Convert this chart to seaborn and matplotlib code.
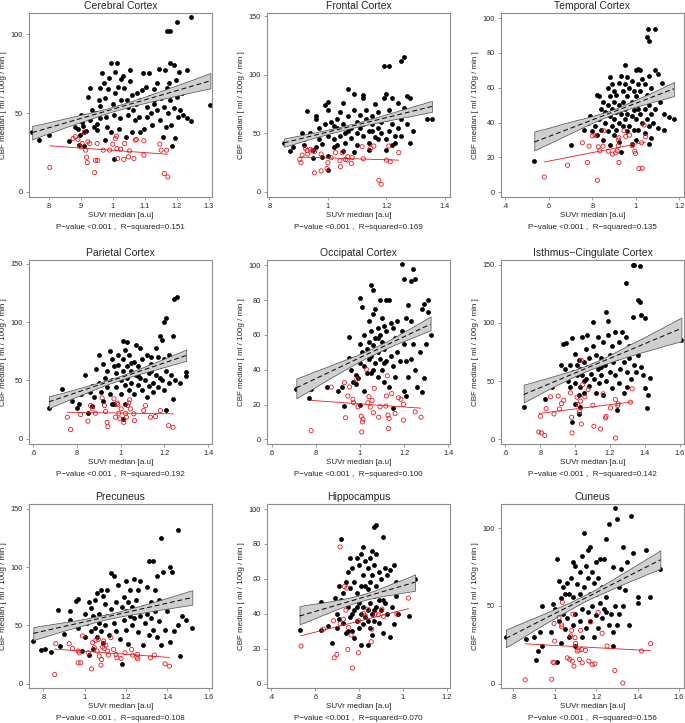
import matplotlib
matplotlib.use("Agg")
import matplotlib.pyplot as plt
import matplotlib.ticker as mticker
import pandas as pd
import seaborn as sns

# Data: (SUVr median, CBF median)
# black = filled dots, red = open circles
cerebral_black = [
    (0.748, 38), (0.769, 33), (0.80, 36), (0.863, 32), (0.883, 41), (0.891, 40), (0.90, 48.7), (0.897, 36),
    (0.904, 44.5), (0.909, 38), (0.915, 38.8), (0.907, 41.7), (0.922, 60.4), (0.928, 65.7), (0.935, 51.9),
    (0.941, 41.3), (0.949, 39.2), (0.956, 58.3), (0.961, 54.4), (0.961, 65.7), (0.967, 75.2), (0.972, 68.9),
    (0.974, 59.3), (0.98, 47.7), (0.982, 41.3), (0.984, 65), (0.987, 72), (0.995, 81.6), (1.0, 56),
    (1.003, 48.7), (0.993, 38), (1.008, 62.5), (1.014, 81.6), (1.016, 66.7), (1.019, 54), (1.022, 46.6),
    (1.024, 58.3), (1.026, 71.4), (1.032, 73.5), (1.036, 65.7), (1.043, 58.3), (1.047, 54), (1.049, 48.7),
    (1.053, 77.3), (1.055, 70), (1.06, 61.4), (1.064, 52), (1.068, 45.5), (1.071, 56), (1.076, 62.5),
    (1.081, 47.7), (1.086, 58.3), (1.092, 64.6), (1.095, 75.6), (1.099, 40.2), (1.105, 66.3), (1.107, 54),
    (1.112, 75.6), (1.116, 60.4), (1.12, 49.8), (1.123, 42.4), (1.128, 65), (1.13, 56), (1.137, 68.9),
    (1.139, 51.9), (1.144, 77.8), (1.147, 45.5), (1.151, 59.3), (1.155, 62.9), (1.158, 35), (1.16, 54),
    (1.162, 77.3), (1.165, 41.3), (1.17, 65.7), (1.172, 49.8), (1.176, 69.3), (1.178, 82), (1.18, 58.3),
    (1.182, 42.4), (1.186, 29), (1.19, 80.5), (1.191, 53), (1.193, 33.9), (1.197, 71), (1.2, 60.4),
    (1.203, 47.7), (1.207, 76.3), (1.211, 51.9), (1.217, 62.5), (1.22, 48.7), (1.228, 66.7), (1.232, 77.3),
    (1.232, 46.6), (1.245, 45.1), (1.003, 20.6), (1.008, 76.3), (0.894, 29.7), (0.911, 29.4), (0.974, 32.8),
    (1.107, 47.7), (1.06, 38), (1.019, 40.2), (1.04, 35), (1.086, 38), (0.961, 46.6), (0.946, 49.8),
    (0.93, 45.5), (0.951, 43), (1.128, 58.3), (1.245, 110.8), (1.201, 107.4), (1.168, 102.3), (1.178, 101.7),
    (1.305, 55),
]
cerebral_red = [
    (0.803, 15.5), (0.876, 33.9), (0.883, 35), (0.891, 33.3), (0.899, 28.6), (0.904, 30.7), (0.911, 38),
    (0.915, 26.5), (0.918, 22), (0.92, 18.6), (0.922, 31.8), (0.928, 30.7), (0.943, 12.3), (0.946, 20),
    (0.953, 20), (0.951, 30.7), (0.97, 26.5), (0.99, 26.5), (1.0, 30.3), (1.008, 33.9), (1.011, 35.4),
    (1.013, 27.5), (1.015, 21.2), (1.024, 27.1), (1.034, 20.6), (1.037, 30.7), (1.049, 22.2), (1.052, 26),
    (1.07, 32.8), (1.074, 33.3), (1.066, 21.2), (1.097, 32.4), (1.097, 23.3), (1.147, 30.3), (1.151, 26.5),
    (1.168, 26.5), (1.161, 11.7), (1.172, 9.5),
]

frontal_black = [
    (0.85, 42), (0.87, 35), (0.88, 38), (0.90, 44), (0.91, 50), (0.92, 40), (0.93, 47), (0.93, 69), (0.94, 50),
    (0.95, 36), (0.95, 29), (0.96, 62), (0.96, 65), (0.97, 45), (0.97, 55), (0.98, 41), (0.99, 58), (0.99, 74),
    (1.0, 70), (1.0, 77), (1.0, 48), (1.0, 19), (1.01, 60), (1.01, 52), (1.02, 38), (1.02, 45), (1.03, 62),
    (1.03, 55), (1.04, 48), (1.04, 68), (1.05, 76), (1.05, 58), (1.06, 50), (1.06, 42), (1.07, 88), (1.07, 65),
    (1.08, 55), (1.08, 46), (1.09, 84), (1.09, 70), (1.10, 60), (1.10, 50), (1.10, 40), (1.11, 66), (1.11, 55),
    (1.12, 83), (1.12, 80), (1.12, 48), (1.13, 62), (1.13, 70), (1.14, 52), (1.14, 42), (1.15, 58), (1.15, 65),
    (1.16, 47), (1.16, 75), (1.17, 55), (1.17, 68), (1.18, 50), (1.18, 60), (1.19, 80), (1.19, 108), (1.20, 84),
    (1.20, 62), (1.20, 45), (1.21, 108), (1.21, 70), (1.21, 52), (1.22, 80), (1.22, 58), (1.22, 40), (1.23, 66),
    (1.23, 48), (1.24, 76), (1.24, 55), (1.25, 112), (1.25, 62), (1.26, 115), (1.26, 72), (1.27, 82), (1.27, 58),
    (1.28, 80), (1.28, 42), (1.29, 52), (1.34, 62), (1.355, 62), (0.98, 30), (1.05, 35), (1.09, 34), (1.14, 36),
    (1.20, 36), (1.23, 42), (1.0, 31), (0.96, 38), (0.92, 45), (1.02, 56), (1.07, 52), (1.12, 58), (1.17, 45),
    (1.25, 48), (1.03, 40), (1.15, 52),
]
frontal_red = [
    (0.904, 27.8), (0.908, 25), (0.912, 31.5), (0.931, 32.4), (0.94, 36.4), (0.946, 35.3), (0.954, 34.4),
    (0.954, 16.3), (0.977, 32.4), (0.977, 18), (0.997, 20), (1.0, 25), (1.011, 29.3), (1.026, 33.6),
    (1.041, 26.7), (1.043, 21.5), (1.049, 33.6), (1.06, 27.8), (1.066, 27.2), (1.068, 30.1), (1.08, 24.4),
    (1.083, 29.3), (1.117, 38.7), (1.121, 28.4), (1.146, 37.3), (1.157, 39.3), (1.174, 10), (1.182, 6.6),
    (1.2, 27.2), (1.208, 39.3), (1.213, 25.8), (1.242, 33.6), (0.923, 37.3), (0.929, 35.3),
]

temporal_black = [
    (0.533, 18), (0.70, 27), (0.76, 36), (0.78, 40), (0.79, 44), (0.80, 35), (0.81, 38), (0.82, 56), (0.82, 33),
    (0.83, 55), (0.83, 42), (0.84, 48), (0.84, 36), (0.85, 52), (0.85, 30), (0.86, 46), (0.86, 40), (0.87, 50),
    (0.87, 60), (0.87, 35), (0.88, 66), (0.88, 55), (0.88, 44), (0.88, 27), (0.89, 62), (0.89, 48), (0.89, 38),
    (0.90, 58), (0.90, 52), (0.90, 42), (0.90, 33), (0.91, 56), (0.91, 46), (0.91, 36), (0.92, 63), (0.92, 50),
    (0.92, 40), (0.93, 67), (0.93, 45), (0.93, 23), (0.94, 58), (0.94, 52), (0.94, 38), (0.95, 73), (0.95, 62),
    (0.95, 48), (0.95, 42), (0.96, 66), (0.96, 55), (0.96, 45), (0.96, 35), (0.97, 60), (0.97, 50), (0.97, 38),
    (0.98, 64), (0.98, 52), (0.98, 44), (0.99, 58), (0.99, 47), (0.99, 36), (1.0, 70), (1.0, 55), (1.0, 42),
    (1.01, 71), (1.01, 62), (1.01, 48), (1.01, 36), (1.02, 70), (1.02, 58), (1.02, 45), (1.03, 65), (1.03, 52),
    (1.03, 40), (1.04, 62), (1.04, 48), (1.04, 34), (1.05, 89), (1.05, 56), (1.05, 42), (1.055, 94), (1.06, 87),
    (1.06, 67), (1.06, 50), (1.06, 38), (1.07, 60), (1.07, 45), (1.07, 31), (1.08, 54), (1.08, 40), (1.09, 94),
    (1.09, 70), (1.09, 48), (1.10, 68), (1.10, 37), (1.11, 52), (1.12, 63), (1.13, 45), (1.13, 36), (1.15, 43),
    (1.175, 42), (0.98, 28), (0.92, 29), (1.0, 30), (1.06, 28),
]
temporal_red = [
    (0.579, 8.8), (0.686, 15.5), (0.754, 28.4), (0.777, 17.1), (0.785, 26.5), (0.80, 32.4), (0.812, 32.8),
    (0.823, 6.9), (0.827, 26.1), (0.834, 23.8), (0.853, 35.3), (0.873, 23.6), (0.892, 21.9), (0.907, 22.6),
    (0.914, 23.8), (0.919, 26.7), (0.922, 31.3), (0.919, 30), (0.922, 17.1), (0.945, 35.3), (0.953, 32.1),
    (0.971, 32.8), (0.983, 26.7), (0.995, 23.6), (0.998, 22.3), (1.014, 13.6), (1.029, 13.8), (1.026, 28.4),
    (1.037, 38.6), (1.044, 31.9), (0.849, 26.5),
]

parietal_black = [
    (0.673, 26), (0.735, 43), (0.78, 32), (0.80, 26), (0.81, 30), (0.82, 38), (0.84, 55), (0.85, 22), (0.86, 40),
    (0.87, 28), (0.87, 45), (0.88, 36), (0.89, 60), (0.90, 72), (0.90, 48), (0.91, 40), (0.92, 64), (0.92, 32),
    (0.93, 52), (0.94, 58), (0.94, 44), (0.95, 75), (0.95, 38), (0.96, 68), (0.96, 50), (0.97, 62), (0.97, 30),
    (0.98, 56), (0.98, 44), (0.99, 72), (0.99, 63), (1.0, 50), (1.0, 38), (1.01, 84), (1.01, 68), (1.01, 58),
    (1.01, 17), (1.02, 76), (1.02, 46), (1.03, 83), (1.03, 62), (1.03, 52), (1.04, 72), (1.04, 42), (1.05, 58),
    (1.05, 48), (1.06, 66), (1.06, 38), (1.07, 80), (1.07, 55), (1.08, 62), (1.08, 46), (1.09, 78), (1.09, 52),
    (1.10, 68), (1.10, 42), (1.11, 60), (1.11, 50), (1.12, 72), (1.12, 36), (1.13, 56), (1.13, 45), (1.14, 70),
    (1.14, 64), (1.15, 48), (1.15, 40), (1.16, 78), (1.16, 55), (1.17, 70), (1.17, 44), (1.18, 88), (1.18, 62),
    (1.19, 85), (1.19, 50), (1.20, 100), (1.20, 68), (1.20, 42), (1.21, 104), (1.21, 58), (1.21, 25), (1.22, 72),
    (1.22, 48), (1.23, 66), (1.23, 55), (1.24, 88), (1.24, 34), (1.245, 120), (1.25, 50), (1.26, 122), (1.26, 70),
    (1.27, 48), (1.30, 54), (1.30, 57), (1.02, 30), (0.96, 30), (1.05, 65), (1.08, 54), (1.14, 58), (1.18, 52),
]
parietal_red = [
    (0.757, 18.4), (0.772, 7.8), (0.818, 20.7), (0.851, 15), (0.863, 28.4), (0.871, 25.6), (0.886, 21.8),
    (0.916, 35), (0.927, 28.4), (0.932, 23.3), (0.939, 14), (0.942, 10.3), (0.97, 34.2), (0.977, 18.4),
    (0.985, 30.5), (0.988, 29.3), (0.992, 21.8), (0.997, 17), (1.003, 25.6), (1.015, 14), (1.023, 21.8),
    (1.027, 18.4), (1.033, 28.4), (1.038, 30.7), (1.042, 33.3), (1.045, 25.6), (1.061, 21.3), (1.064, 15.5),
    (1.106, 24.1), (1.114, 28.4), (1.137, 18.4), (1.16, 19), (1.182, 24.1), (1.22, 11.2), (1.24, 9.8),
]

occipital_black = [
    (0.712, 29), (0.77, 24), (0.78, 29), (0.85, 30), (0.90, 28), (0.92, 30), (0.93, 19), (0.95, 59), (0.95, 47),
    (0.96, 40), (0.97, 33), (0.98, 37), (0.99, 35), (1.0, 81), (1.0, 55), (1.0, 44), (1.0, 20), (1.01, 76),
    (1.01, 50), (1.02, 60), (1.02, 42), (1.03, 52), (1.03, 38), (1.04, 68), (1.04, 56), (1.04, 46), (1.05, 89),
    (1.05, 62), (1.05, 48), (1.06, 86), (1.06, 72), (1.06, 54), (1.06, 40), (1.07, 75), (1.07, 58), (1.07, 44),
    (1.08, 64), (1.08, 50), (1.08, 36), (1.09, 80), (1.09, 60), (1.09, 46), (1.10, 70), (1.10, 56), (1.10, 40),
    (1.11, 65), (1.11, 52), (1.11, 33), (1.12, 80), (1.12, 62), (1.12, 45), (1.13, 80), (1.13, 55), (1.13, 30),
    (1.14, 67), (1.14, 48), (1.15, 64), (1.15, 42), (1.15, 18), (1.16, 58), (1.16, 36), (1.17, 68), (1.17, 50),
    (1.18, 45), (1.19, 101), (1.19, 62), (1.20, 92), (1.20, 55), (1.20, 28), (1.21, 70), (1.21, 45), (1.21, 25),
    (1.22, 77), (1.22, 60), (1.22, 36), (1.23, 91), (1.23, 68), (1.23, 46), (1.24, 98), (1.24, 55), (1.25, 92),
    (1.25, 40), (1.26, 62), (1.26, 30), (1.27, 50), (1.28, 27), (1.28, 75), (1.29, 78), (1.29, 35), (1.30, 55),
    (1.31, 73), (1.31, 80), (1.32, 60), (0.98, 32), (1.02, 28), (1.05, 38), (1.08, 58), (1.11, 44), (1.14, 56),
]
occipital_red = [
    (0.779, 5), (0.87, 30), (0.93, 32.6), (0.935, 12.4), (0.945, 24.9), (0.953, 30.1), (0.968, 23), (0.971, 21),
    (0.986, 34.6), (0.991, 18.7), (1.006, 13.3), (1.008, 4.2), (1.011, 10), (1.014, 11.6), (1.029, 40.3),
    (1.036, 21), (1.041, 24.5), (1.047, 18.5), (1.055, 22.4), (1.061, 15.3), (1.065, 29.3), (1.085, 12.7),
    (1.091, 18.7), (1.117, 19.1), (1.12, 24.9), (1.124, 36.5), (1.127, 13.9), (1.129, 6.2), (1.132, 12),
    (1.144, 26.3), (1.159, 14.9), (1.174, 23.9), (1.186, 23), (1.197, 20.1), (1.197, 11), (1.25, 15.8),
    (1.277, 12.7),
]

isthmus_black = [
    (0.705, 28), (0.83, 35), (0.87, 45), (0.90, 52), (0.92, 64), (0.93, 82), (0.94, 60), (0.95, 83), (0.96, 50),
    (0.97, 64), (0.97, 45), (0.98, 15), (0.98, 87), (0.99, 58), (1.0, 73), (1.0, 48), (1.0, 30), (1.01, 64),
    (1.01, 55), (1.02, 38), (1.02, 22), (1.02, 68), (1.03, 60), (1.03, 45), (1.03, 28), (1.04, 88), (1.04, 55),
    (1.05, 66), (1.05, 40), (1.06, 78), (1.06, 52), (1.07, 90), (1.07, 62), (1.08, 46), (1.08, 70), (1.09, 56),
    (1.10, 101), (1.10, 80), (1.10, 64), (1.11, 52), (1.12, 72), (1.12, 40), (1.13, 88), (1.13, 60), (1.14, 48),
    (1.15, 70), (1.15, 55), (1.16, 84), (1.16, 38), (1.17, 64), (1.18, 109), (1.18, 50), (1.19, 90), (1.19, 102),
    (1.20, 72), (1.20, 58), (1.21, 80), (1.21, 44), (1.22, 66), (1.23, 92), (1.23, 55), (1.24, 25), (1.24, 70),
    (1.25, 84), (1.25, 48), (1.26, 60), (1.27, 92), (1.27, 75), (1.28, 66), (1.28, 40), (1.29, 134), (1.29, 88),
    (1.30, 58), (1.30, 45), (1.31, 80), (1.31, 70), (1.32, 52), (1.33, 150), (1.33, 105), (1.34, 150), (1.34, 64),
    (1.35, 80), (1.35, 58), (1.36, 120), (1.36, 72), (1.37, 118), (1.37, 149), (1.38, 107), (1.38, 62), (1.39, 55),
    (1.40, 104), (1.40, 44), (1.41, 86), (1.41, 27), (1.42, 38), (1.43, 53), (1.61, 85), (1.05, 50), (1.15, 62),
]
isthmus_red = [
    (0.792, 6.3), (0.807, 5.5), (0.826, 3.4), (0.801, 19.8), (0.834, 26.4), (0.859, 36.5), (0.879, 21.8),
    (0.903, 37.1), (0.91, 26.1), (0.922, 30.7), (0.935, 33.6), (0.974, 39.9), (0.98, 19), (0.983, 5.5),
    (1.011, 36.2), (1.017, 29.9), (1.025, 23.6), (1.031, 32.8), (1.036, 13.2), (1.036, 67.8), (1.044, 47.1),
    (1.056, 36.5), (1.075, 42.8), (1.102, 29.3), (1.108, 11.2), (1.146, 8.9), (1.161, 39.1), (1.175, 18.4),
    (1.178, 19.8), (1.203, 27), (1.232, 1.1), (1.232, 34.2), (1.245, 29), (1.247, 30.5), (1.318, 31.9),
    (1.328, 43.4),
]

precuneus_black = [
    (0.753, 37), (0.79, 29), (0.81, 30), (0.84, 27), (0.87, 63), (0.88, 32), (0.90, 43), (0.93, 62), (0.93, 55),
    (0.96, 71), (0.97, 73), (0.97, 48), (0.99, 28), (1.0, 60), (1.0, 40), (1.01, 52), (1.02, 70), (1.02, 25),
    (1.03, 65), (1.03, 45), (1.04, 58), (1.04, 30), (1.05, 72), (1.05, 48), (1.06, 78), (1.06, 40), (1.07, 60),
    (1.07, 52), (1.08, 80), (1.08, 45), (1.09, 75), (1.09, 35), (1.10, 68), (1.10, 50), (1.11, 80), (1.11, 58),
    (1.12, 42), (1.13, 95), (1.13, 64), (1.14, 92), (1.14, 52), (1.15, 70), (1.15, 45), (1.16, 85), (1.16, 60),
    (1.17, 38), (1.18, 66), (1.18, 17), (1.19, 74), (1.19, 55), (1.20, 88), (1.20, 62), (1.20, 46), (1.21, 70),
    (1.21, 34), (1.22, 58), (1.22, 80), (1.23, 66), (1.23, 50), (1.24, 90), (1.24, 56), (1.25, 72), (1.25, 62),
    (1.26, 80), (1.26, 44), (1.27, 58), (1.27, 88), (1.28, 66), (1.28, 33), (1.29, 52), (1.30, 83), (1.30, 60),
    (1.31, 105), (1.31, 42), (1.32, 70), (1.32, 56), (1.33, 105), (1.33, 46), (1.34, 80), (1.34, 62), (1.35, 92),
    (1.35, 40), (1.36, 72), (1.36, 54), (1.37, 125), (1.37, 33), (1.38, 70), (1.38, 96), (1.39, 46), (1.40, 62),
    (1.41, 100), (1.41, 36), (1.42, 96), (1.43, 45), (1.44, 70), (1.45, 132), (1.45, 50), (1.46, 24), (1.47, 58),
    (1.49, 55), (1.52, 48),
]
precuneus_red = [
    (0.856, 7.8), (0.861, 34.3), (0.926, 34.3), (0.942, 30.3), (0.969, 28), (0.974, 26.5), (0.969, 17.9),
    (0.982, 17.9), (0.99, 40.9), (1.018, 26.5), (1.034, 12.7), (1.039, 35.2), (1.047, 30.8), (1.055, 37.2),
    (1.06, 28), (1.066, 38), (1.071, 23.6), (1.079, 15.9), (1.082, 20.7), (1.087, 31.4), (1.092, 36.6),
    (1.095, 30.3), (1.103, 33.1), (1.111, 28), (1.115, 24.5), (1.127, 39.5), (1.14, 29.4), (1.152, 25),
    (1.156, 22.2), (1.176, 21.6), (1.195, 26.5), (1.227, 29.4), (1.232, 24.5), (1.253, 22.8), (1.256, 25),
    (1.256, 21.3), (1.318, 22.2), (1.337, 24.5), (1.389, 17), (1.41, 15),
]

hippocampus_black = [
    (0.53, 31), (0.63, 47), (0.63, 31), (0.66, 33), (0.68, 23), (0.69, 49), (0.70, 40), (0.70, 32), (0.71, 56),
    (0.71, 37), (0.72, 83), (0.72, 48), (0.73, 52), (0.73, 35), (0.74, 58), (0.74, 29), (0.75, 64), (0.75, 44),
    (0.76, 72), (0.76, 55), (0.76, 38), (0.77, 66), (0.77, 48), (0.77, 30), (0.78, 58), (0.78, 42), (0.78, 26),
    (0.79, 72), (0.79, 52), (0.79, 36), (0.80, 68), (0.80, 46), (0.80, 32), (0.81, 74), (0.81, 56), (0.81, 40),
    (0.81, 22), (0.82, 78), (0.82, 62), (0.82, 44), (0.82, 34), (0.83, 70), (0.83, 50), (0.83, 38), (0.84, 66),
    (0.84, 54), (0.84, 42), (0.84, 22), (0.85, 72), (0.85, 58), (0.85, 46), (0.85, 32), (0.86, 76), (0.86, 62),
    (0.86, 40), (0.86, 28), (0.87, 90), (0.87, 68), (0.87, 50), (0.87, 36), (0.88, 91), (0.88, 74), (0.88, 56),
    (0.88, 44), (0.89, 64), (0.89, 48), (0.89, 35), (0.90, 60), (0.90, 42), (0.91, 84), (0.91, 52), (0.91, 29),
    (0.92, 66), (0.92, 46), (0.93, 62), (0.93, 40), (0.94, 65), (0.94, 27), (0.95, 55), (0.95, 44), (0.96, 68),
    (0.96, 34), (0.97, 58), (0.98, 40), (1.03, 39), (1.056, 60), (0.75, 30), (0.79, 44), (0.83, 56), (0.87, 42),
    (0.91, 48), (0.97, 50), (0.77, 40), (0.84, 36),
]
hippocampus_red = [
    (0.537, 21.5), (0.639, 31.2), (0.685, 36), (0.688, 14.8), (0.70, 16.7), (0.715, 34.4), (0.715, 78.3),
    (0.73, 36.9), (0.735, 55.6), (0.745, 54.8), (0.741, 42.1), (0.75, 19.6), (0.753, 32.1), (0.765, 27.9),
    (0.771, 9), (0.798, 17.7), (0.80, 36), (0.821, 40.2), (0.829, 38.8), (0.841, 42.7), (0.856, 24),
    (0.859, 31.2), (0.874, 39.8), (0.889, 39.4), (0.905, 42.7), (0.912, 38.5), (0.973, 39.8), (1.026, 49),
]

cuneus_black = [
    (0.765, 30), (0.86, 29), (0.90, 30), (0.91, 15), (0.92, 21), (0.93, 33), (0.94, 50), (0.94, 24), (0.98, 33),
    (0.99, 51), (1.0, 48), (1.01, 80), (1.01, 14), (1.02, 66), (1.02, 40), (1.03, 55), (1.03, 26), (1.04, 62),
    (1.04, 45), (1.05, 58), (1.05, 35), (1.06, 65), (1.06, 42), (1.07, 58), (1.07, 30), (1.08, 68), (1.08, 50),
    (1.09, 78), (1.09, 56), (1.09, 38), (1.10, 76), (1.10, 45), (1.10, 24), (1.11, 64), (1.11, 52), (1.12, 72),
    (1.12, 58), (1.12, 40), (1.13, 82), (1.13, 48), (1.13, 30), (1.14, 97), (1.14, 62), (1.15, 76), (1.15, 55),
    (1.15, 36), (1.16, 86), (1.16, 68), (1.16, 46), (1.17, 88), (1.17, 58), (1.17, 40), (1.18, 72), (1.18, 50),
    (1.19, 65), (1.19, 30), (1.20, 78), (1.20, 58), (1.20, 44), (1.21, 68), (1.21, 36), (1.22, 80), (1.22, 52),
    (1.23, 62), (1.23, 42), (1.24, 80), (1.24, 48), (1.25, 93), (1.25, 56), (1.26, 103), (1.26, 38), (1.27, 62),
    (1.27, 45), (1.28, 75), (1.28, 33), (1.29, 113), (1.29, 50), (1.30, 106), (1.30, 38), (1.31, 62), (1.31, 45),
    (1.32, 74), (1.33, 88), (1.33, 50), (1.34, 60), (1.35, 78), (1.36, 38), (1.37, 108), (1.38, 84), (1.40, 56),
    (1.40, 52), (1.44, 86), (1.46, 56), (1.51, 74), (1.28, 24), (1.25, 46),
]
cuneus_red = [
    (0.858, 2.4), (0.986, 2.8), (0.992, 13.8), (0.997, 13.4), (1.0, 27.4), (0.997, 38.7), (1.034, 36.5),
    (1.037, 52.3), (1.021, 42.5), (1.061, 16.6), (1.073, 15.6), (1.077, 30.7), (1.082, 34.3), (1.085, 14.5),
    (1.088, 44.7), (1.093, 11.2), (1.098, 29.6), (1.101, 25.9), (1.109, 21), (1.117, 21.6), (1.12, 15.6),
    (1.125, 34.3), (1.13, 22), (1.133, 13.4), (1.149, 21.4), (1.165, 14.5), (1.173, 39.7), (1.181, 12.3),
    (1.194, 12.7), (1.21, 45.8), (1.229, 32.4), (1.253, 24.2), (1.29, 8.4), (1.329, 0.4), (1.419, 21),
    (1.463, 25.7), (1.034, 37.8),
]

regions = ["Cerebral Cortex", "Frontal Cortex", "Temporal Cortex",
           "Parietal Cortex", "Occipatal Cortex", "Isthmus\u2212Cingulate Cortex",
           "Precuneus", "Hippocampus", "Cuneus"]
black_sets = [cerebral_black, frontal_black, temporal_black, parietal_black, occipital_black,
              isthmus_black, precuneus_black, hippocampus_black, cuneus_black]
red_sets = [cerebral_red, frontal_red, temporal_red, parietal_red, occipital_red,
            isthmus_red, precuneus_red, hippocampus_red, cuneus_red]
r_squared = ["0.151", "0.169", "0.135", "0.192", "0.100", "0.142", "0.108", "0.070", "0.156"]

x_ticks = [[0.8, 0.9, 1.0, 1.1, 1.2, 1.3], [0.8, 1.0, 1.2, 1.4], [0.4, 0.6, 0.8, 1.0, 1.2],
           [0.6, 0.8, 1.0, 1.2, 1.4], [0.6, 0.8, 1.0, 1.2, 1.4], [0.6, 0.8, 1.0, 1.2, 1.4, 1.6],
           [0.8, 1.0, 1.2, 1.4, 1.6], [0.4, 0.6, 0.8, 1.0, 1.2], [0.8, 1.0, 1.2, 1.4, 1.6]]
y_ticks = [[0, 50, 100], [0, 50, 100, 150], [0, 20, 40, 60, 80, 100],
           [0, 50, 100, 150], [0, 20, 40, 60, 80, 100], [0, 50, 100, 150],
           [0, 50, 100, 150], [0, 20, 40, 60, 80, 100], [0, 50, 100]]

# axis ranges (layout)
x_lims = [(0.738, 1.31), (0.792, 1.417), (0.38, 1.221), (0.582, 1.418), (0.579, 1.408),
          (0.575, 1.625), (0.732, 1.615), (0.382, 1.215), (0.741, 1.624)]
y_lims = [(-3.2, 113.4), (-4.3, 152.9), (-2.7, 102.9), (-4.6, 153.4), (-2.7, 103.1),
          (-4, 154), (-3.7, 154), (-2.5, 102.9), (-2.8, 115.6)]

W, H = 685, 723
col_left = [29, 267, 501]
row_top = [13, 260, 504]
ax_w, ax_h = 183, 184

sns.set_theme(style="white")
plt.rcParams["font.family"] = ["Liberation Sans", "DejaVu Sans"]

fig = plt.figure(figsize=(W / 100, H / 100), dpi=100)
frame_col = "#8c8c8c"


def stata_fmt(v, pos):
    s = f"{v:g}"
    if s.startswith("0.") and v != 0:
        s = s[1:]
    return s


for i, region in enumerate(regions):
    r, c = divmod(i, 3)
    left = col_left[c] / W
    bottom = 1 - (row_top[r] + ax_h) / H
    ax = fig.add_axes([left, bottom, ax_w / W, ax_h / H])

    blk = pd.DataFrame(black_sets[i], columns=["suvr", "cbf"])
    red = pd.DataFrame(red_sets[i], columns=["suvr", "cbf"])

    sns.scatterplot(data=blk, x="suvr", y="cbf", ax=ax, color="black", s=12,
                    linewidth=0, zorder=2, legend=False)
    # fewer points were read than the original has, so a narrower interval
    # gives a band closer to the published one
    sns.regplot(data=blk, x="suvr", y="cbf", ax=ax, scatter=False, ci=75, n_boot=500, seed=1,
                truncate=True, color="black",
                line_kws={"linestyle": (0, (5, 3)), "linewidth": 0.7, "zorder": 4})
    band = ax.collections[-1]
    band.set_facecolor("#cfcfcf")
    band.set_alpha(1)
    band.set_edgecolor("#4d4d4d")
    band.set_linewidth(0.5)
    band.set_zorder(3)

    sns.scatterplot(data=red, x="suvr", y="cbf", ax=ax, facecolor="none", edgecolor="#e8191e",
                    s=9, linewidth=0.6, zorder=5, legend=False)
    sns.regplot(data=red, x="suvr", y="cbf", ax=ax, scatter=False, ci=None, truncate=True,
                color="#e8191e", line_kws={"linewidth": 0.6, "zorder": 5})

    ax.set_xlim(*x_lims[i])
    ax.set_ylim(*y_lims[i])
    ax.set_xticks(x_ticks[i])
    ax.set_yticks(y_ticks[i])
    ax.xaxis.set_major_formatter(mticker.FuncFormatter(stata_fmt))
    ax.yaxis.set_major_formatter(mticker.FuncFormatter(stata_fmt))
    ax.tick_params(axis="both", which="major", direction="out", length=2.5, width=0.6,
                   color=frame_col, labelsize=5.3, pad=2, left=True, bottom=True)
    for sp in ax.spines.values():
        sp.set_color(frame_col)
        sp.set_linewidth(0.8)

    ax.set_title(region, fontsize=7.5, pad=3)
    ax.set_xlabel("SUVr median [a.u]", fontsize=5.8, labelpad=1.5)
    ax.set_ylabel("CBF median [ ml / 100g / min ]", fontsize=5.8, labelpad=2.5)
    ax.text(0.5, -0.168, "P\u2212value <0.001 ,  R\u2212squared=" + r_squared[i],
            transform=ax.transAxes, ha="center", va="center", fontsize=5.8)

fig.savefig("out.png", dpi=100)
